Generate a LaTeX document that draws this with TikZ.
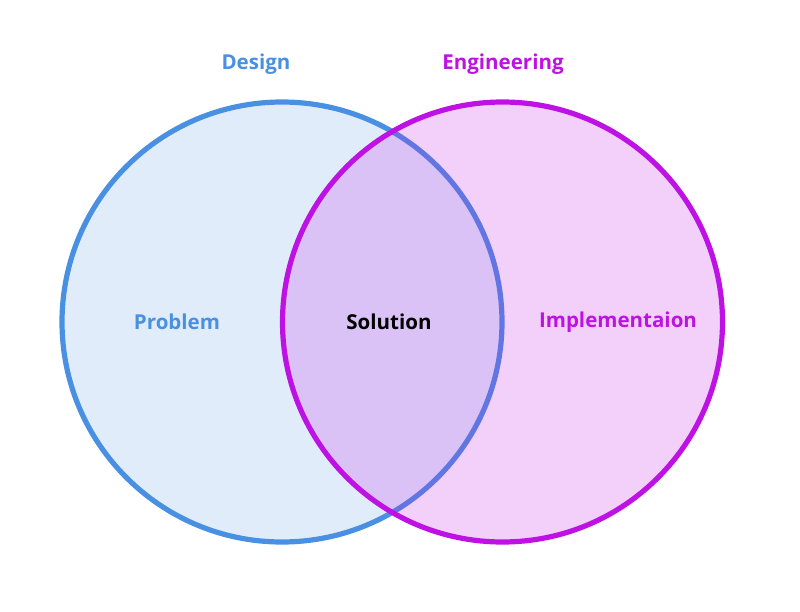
\documentclass[tikz,border=0pt]{standalone}
\usepackage{fontspec}
\setmainfont{Open Sans}
\usetikzlibrary{positioning}

\definecolor{designblue}{RGB}{74,144,226}
\definecolor{engmagenta}{RGB}{190,18,228}

\begin{document}
\begin{tikzpicture}[
    x=0.75pt, y=-0.75pt,
    set/.style={circle, line width=3.9pt, minimum size=330pt, inner sep=0pt},
    label/.style={font=\fontsize{15.4}{18}\selectfont\bfseries}
  ]
    \useasboundingbox (0,0) rectangle (800,611);

    \node[set, draw=designblue, fill=designblue, fill opacity=0.17, draw opacity=1] (design) at (282,322) {};
    \node[set, fill=engmagenta, fill opacity=0.2] (engfill) at (502.5,322) {};
    \node[set, draw=engmagenta] (engineering) at (502.5,322) {};

    \node[label, text=designblue] (designlbl) at (256,64) {Design};
    \node[label, text=engmagenta] (englbl) at (503,64) {Engineering};
    \node[label, text=designblue] (problem) at (177,322) {Problem};
    \node[label] (solution) at (389,322) {Solution};
    \node[label, text=engmagenta] (impl) at (618,322) {Implementaion};
  \end{tikzpicture}
\end{document}
